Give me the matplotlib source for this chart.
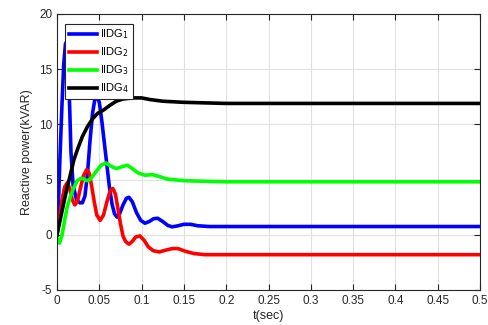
import matplotlib
matplotlib.use('Agg')
import matplotlib.pyplot as plt
import numpy as np

plt.rcParams['font.family'] = ['Liberation Sans', 'DejaVu Sans']
plt.rcParams['axes.unicode_minus'] = False

# IIDG1 (blue)
t1 = [0.000, 0.002, 0.0035, 0.006, 0.008, 0.010, 0.0115, 0.013, 0.015, 0.0165, 0.019,
      0.023, 0.027, 0.030, 0.033, 0.036, 0.039, 0.042, 0.045, 0.047, 0.050, 0.053,
      0.056, 0.059, 0.062, 0.065, 0.068, 0.071, 0.074, 0.078, 0.082, 0.085, 0.089,
      0.094, 0.099, 0.104, 0.109, 0.114, 0.119, 0.125, 0.131, 0.136, 0.142, 0.150,
      0.158, 0.166, 0.180, 0.5]
p1 = [0.0, 3.5, 7.0, 12.0, 15.5, 17.3, 17.5, 16.0, 11.5, 7.5, 4.5,
      3.2, 2.9, 2.9, 3.5, 5.5, 8.5, 11.0, 12.4, 12.6, 12.0, 10.3,
      8.3, 6.3, 4.3, 2.8, 1.9, 1.6, 1.9, 2.7, 3.3, 3.4, 3.0,
      2.0, 1.3, 1.05, 1.2, 1.45, 1.5, 1.2, 0.85, 0.72, 0.8, 0.95,
      0.95, 0.82, 0.75, 0.75]

# IIDG2 (red)
t2 = [0.000, 0.003, 0.006, 0.009, 0.012, 0.015, 0.018, 0.021, 0.024, 0.027, 0.031,
      0.035, 0.038, 0.041, 0.044, 0.047, 0.051, 0.055, 0.059, 0.063, 0.066, 0.069,
      0.072, 0.075, 0.078, 0.081, 0.085, 0.089, 0.093, 0.098, 0.103, 0.108, 0.114,
      0.121, 0.128, 0.136, 0.143, 0.152, 0.162, 0.175, 0.2, 0.5]
p2 = [0.0, 1.5, 3.2, 4.3, 4.7, 4.2, 3.2, 2.7, 3.0, 4.0, 5.3,
      5.9, 5.6, 4.4, 3.0, 1.8, 1.3, 1.8, 3.0, 4.0, 4.2, 3.7,
      2.4, 1.0, -0.1, -0.6, -0.85, -0.6, -0.2, -0.1, -0.5, -1.1, -1.45,
      -1.55, -1.4, -1.25, -1.25, -1.5, -1.7, -1.8, -1.8, -1.8]

# IIDG3 (green)
t3 = [0.000, 0.003, 0.006, 0.009, 0.012, 0.016, 0.020, 0.024, 0.028, 0.031, 0.035,
      0.039, 0.043, 0.047, 0.052, 0.058, 0.064, 0.070, 0.076, 0.083, 0.089, 0.096,
      0.104, 0.113, 0.120, 0.130, 0.150, 0.200, 0.500]
p3 = [-0.3, -0.75, 0.0, 1.3, 2.5, 3.5, 4.3, 4.9, 5.1, 5.1, 4.9,
      5.0, 5.4, 5.8, 6.3, 6.5, 6.2, 6.0, 6.15, 6.3, 6.0, 5.6,
      5.4, 5.45, 5.3, 5.05, 4.9, 4.8, 4.8]

# IIDG4 (black)
t4 = [0.000, 0.005, 0.010, 0.015, 0.020, 0.025, 0.030, 0.036, 0.042, 0.048, 0.055,
      0.062, 0.070, 0.078, 0.090, 0.100, 0.110, 0.125, 0.150, 0.200, 0.500]
p4 = [0.0, 1.8, 3.6, 5.2, 6.8, 7.9, 8.9, 9.8, 10.5, 11.0, 11.3,
      11.7, 12.1, 12.3, 12.4, 12.4, 12.25, 12.1, 12.0, 11.9, 11.9]

xticks = [0, 0.05, 0.1, 0.15, 0.2, 0.25, 0.3, 0.35, 0.4, 0.45, 0.5]
xlabels = ['0', '0.05', '0.1', '0.15', '0.2', '0.25', '0.3', '0.35', '0.4', '0.45', '0.5']
yticks = [-5, 0, 5, 10, 15, 20]

fig = plt.figure(figsize=(4.88, 3.25), dpi=100)
ax = fig.add_axes([57/488, 1 - 290/325, (480 - 57)/488, (290 - 14)/325])

lw = 2.6
ax.plot(t1, p1, color='#0000ff', lw=lw, label='IIDG$_1$')
ax.plot(t2, p2, color='#ff0000', lw=lw, label='IIDG$_2$')
ax.plot(t3, p3, color='#00ff00', lw=lw, label='IIDG$_3$')
ax.plot(t4, p4, color='#000000', lw=lw, label='IIDG$_4$')

ax.set_xlim(0, 0.5)
ax.set_ylim(-5, 20)
ax.set_xticks(xticks)
ax.set_xticklabels(xlabels)
ax.set_yticks(yticks)
ax.tick_params(direction='in', top=True, right=True, labelsize=8.5,
               colors='#262626', length=4, width=0.8)
ax.grid(True, color='#e0e0e0', lw=0.8)
for s in ax.spines.values():
    s.set_color('#262626')
    s.set_linewidth(0.8)

ax.set_xlabel('t(sec)', fontsize=9, color='#262626', labelpad=2)
ax.set_ylabel('Reactive power(kVAR)', fontsize=9, color='#262626', labelpad=4)

leg = ax.legend(loc='upper left', bbox_to_anchor=(0.019, 0.965), fontsize=8,
                handlelength=2.5, handletextpad=0.3, borderpad=0.35,
                labelspacing=0.38, fancybox=False, framealpha=1,
                edgecolor='#262626', borderaxespad=0)
leg.get_frame().set_linewidth(0.8)

fig.savefig('out.png', dpi=100)
